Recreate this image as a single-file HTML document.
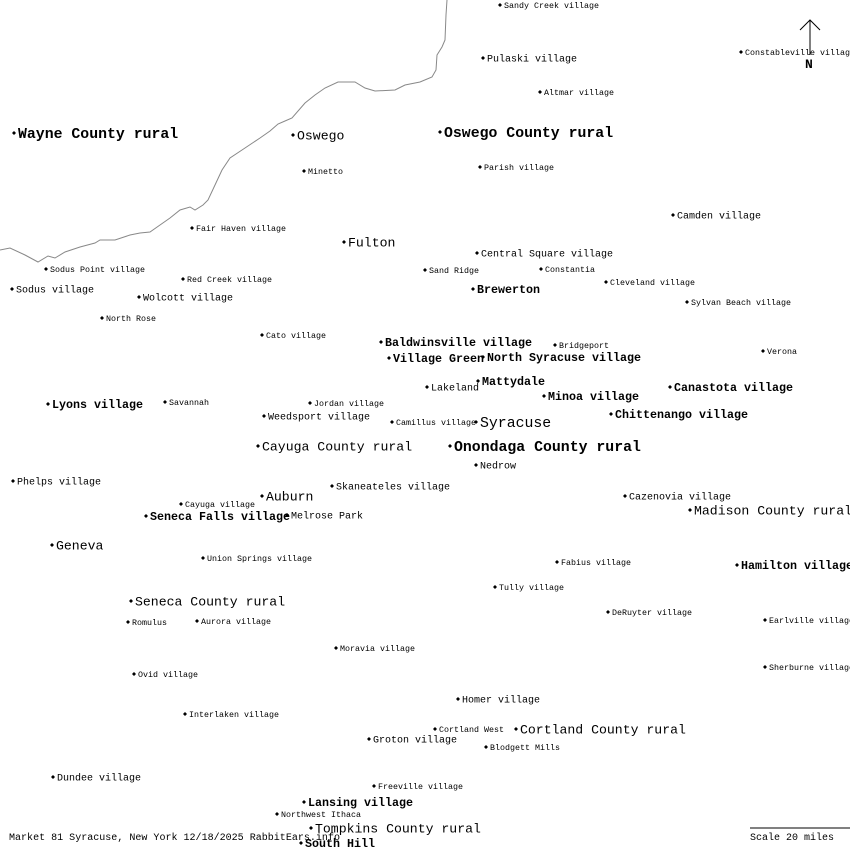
<!DOCTYPE html>
<html><head><meta charset="utf-8"><style>
html,body{margin:0;padding:0;background:#fff;width:850px;height:850px;overflow:hidden}
svg text{font-family:"Liberation Mono","DejaVu Sans Mono",monospace;fill:#000}
</style></head><body>
<svg id="m" width="850" height="850" xmlns="http://www.w3.org/2000/svg">
<polyline fill="none" stroke="#888" stroke-width="1" points="0,250 10,248 25,255 38,262 48,256 55,258 65,252 80,247 95,243 100,240 115,240 130,235 140,233 150,232 160,225 170,218 180,210 190,207 195,210 203,205 208,200 215,185 222,170 230,158 245,148 260,138 270,131 278,124 285,121 292,118 305,103 315,95 325,88 338,82 355,82 365,88 375,91 395,90 405,85 420,82 432,77 436,70 437,55 442,47 445,40 446,15 447,0"/>
<line x1="810" y1="20" x2="810" y2="55" stroke="#000"/>
<polyline points="800,30 810,20 820,30" fill="none" stroke="#000"/>
<text x="805" y="68" font-size="13" font-weight="bold">N</text>
<line x1="750" y1="828" x2="850" y2="828" stroke="#000"/>
<text x="750" y="840" font-size="10" textLength="84" lengthAdjust="spacingAndGlyphs">Scale 20 miles</text>
<text x="9" y="840" font-size="10" textLength="331" lengthAdjust="spacingAndGlyphs">Market 81 Syracuse, New York 12/18/2025 RabbitEars.info</text>
<g id="labels"></g>
</svg>
<script>
var D=[
[500,5,"S","Sandy Creek village"],[483,58,"R","Pulaski village"],[741,52,"S","Constableville village"],[540,92,"S","Altmar village"],
[14,133,"X","Wayne County rural"],[293,135,"M","Oswego"],[440,132,"X","Oswego County rural"],[304,171,"S","Minetto"],[480,167,"S","Parish village"],
[673,215,"R","Camden village"],[192,228,"S","Fair Haven village"],[344,242,"M","Fulton"],[477,253,"R","Central Square village"],
[46,269,"S","Sodus Point village"],[425,270,"S","Sand Ridge"],[541,269,"S","Constantia"],[183,279,"S","Red Creek village"],[606,282,"S","Cleveland village"],
[12,289,"R","Sodus village"],[473,289,"B","Brewerton"],[139,297,"R","Wolcott village"],[687,302,"S","Sylvan Beach village"],[102,318,"S","North Rose"],
[262,335,"S","Cato village"],[381,342,"B","Baldwinsville village"],[555,345,"S","Bridgeport"],[389,358,"B","Village Green"],[483,357,"B","North Syracuse village"],
[763,351,"S","Verona"],[478,381,"B","Mattydale"],[427,387,"R","Lakeland"],[670,387,"B","Canastota village"],[544,396,"B","Minoa village"],
[48,404,"B","Lyons village"],[165,402,"S","Savannah"],[310,403,"S","Jordan village"],[611,414,"B","Chittenango village"],[264,416,"R","Weedsport village"],
[392,422,"S","Camillus village"],[476,422,"Y","Syracuse"],[258,446,"M","Cayuga County rural"],[450,446,"X","Onondaga County rural"],[476,465,"R","Nedrow"],
[13,481,"R","Phelps village"],[332,486,"R","Skaneateles village"],[625,496,"R","Cazenovia village"],[262,496,"M","Auburn"],[181,504,"S","Cayuga village"],
[690,510,"M","Madison County rural"],[146,516,"B","Seneca Falls village"],[287,515,"R","Melrose Park"],[52,545,"M","Geneva"],[203,558,"S","Union Springs village"],
[557,562,"S","Fabius village"],[737,565,"B","Hamilton village"],[495,587,"S","Tully village"],[131,601,"M","Seneca County rural"],[608,612,"S","DeRuyter village"],
[128,622,"S","Romulus"],[197,621,"S","Aurora village"],[765,620,"S","Earlville village"],[336,648,"S","Moravia village"],[765,667,"S","Sherburne village"],
[134,674,"S","Ovid village"],[458,699,"R","Homer village"],[185,714,"S","Interlaken village"],[435,729,"S","Cortland West"],[516,729,"M","Cortland County rural"],
[369,739,"R","Groton village"],[486,747,"S","Blodgett Mills"],[53,777,"R","Dundee village"],[374,786,"S","Freeville village"],[304,802,"B","Lansing village"],
[277,814,"S","Northwest Ithaca"],[311,828,"M","Tompkins County rural"],[301,843,"B","South Hill"]];
var C={S:[8.3,5,"normal"],R:[10,6,"normal"],M:[13,7.9,"normal"],B:[11.7,7,"bold"],X:[14.8,8.9,"bold"],Y:[14.8,8.9,"normal"]};
var g=document.getElementById("labels"),ns="http://www.w3.org/2000/svg",h="";
D.forEach(function(d){var c=C[d[2]];
h+='<path d="M'+d[0]+' '+(d[1]-2)+'l2 2l-2 2l-2 -2z" fill="#000"/>';
h+='<text x="'+(d[0]+4)+'" y="'+(d[1]+c[0]*0.35).toFixed(1)+'" font-size="'+c[0]+'" font-weight="'+c[2]+'" textLength="'+(d[3].length*c[1]).toFixed(1)+'" lengthAdjust="spacingAndGlyphs">'+d[3]+'</text>';});
g.innerHTML=h;
</script>
</body></html>
